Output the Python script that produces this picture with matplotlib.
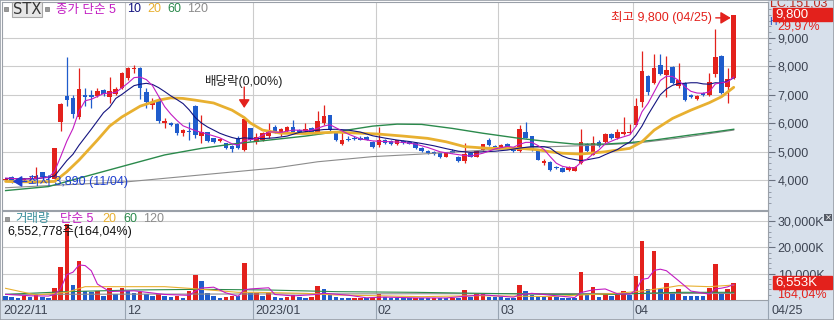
import matplotlib
matplotlib.use("Agg")
import matplotlib.pyplot as plt
import matplotlib.transforms as mtransforms
from matplotlib import font_manager
from matplotlib.patches import Rectangle

# narrow digits like the original chart font, if available
avail = {f.name for f in font_manager.fontManager.ttflist}
if 'Liberation Sans Narrow' in avail:
    NUM_FONT, NUM_SIZE = 'Liberation Sans Narrow', 10
else:
    NUM_FONT, NUM_SIZE = 'Liberation Sans', 9
plt.rcParams['font.family'] = [NUM_FONT, 'Noto Sans CJK KR', 'DejaVu Sans']

# daily candles, index 0 = 2022/11/03 ... index 119 = 2023/04/25
opens = [4010, 4120, 3970, 4010, 4030, 4050, 4290, 4120, 4060, 6040,
         6960, 6900, 6210, 7000, 6990, 6960, 7150, 6930, 7030, 7230,
         7590, 7890, 7930, 7100, 6640, 6810, 6020, 6010, 5990, 5660,
         5730, 6610, 5550, 5690, 5480, 5370, 5300, 5200, 5480, 5060,
         5830, 5340, 5410, 5550, 5870, 5650, 5730, 5870, 5760, 5730,
         5830, 5700, 6000, 6290, 5660, 5270, 5460, 5500, 5500, 5510,
         5340, 5240, 5410, 5380, 5270, 5370, 5360, 5310, 5150, 5010,
         5000, 4950, 4830, 5030, 4830, 4660, 4950, 4830, 5060, 5400,
         5200, 5170, 5270, 5100, 5010, 5680, 5540, 5060, 4590, 4640,
         4470, 4430, 4360, 4330, 4600, 5270, 4890, 5340, 5340, 5620,
         5480, 5620, 5650, 5940, 6740, 7660, 7410, 8040, 7700, 7970,
         7300, 7410, 6990, 6850, 7060, 6990, 7730, 8360, 7270, 7590]
highs = [4090, 4150, 4060, 4090, 4150, 4460, 4300, 4140, 5140, 6700,
         8320, 7000, 7930, 7220, 7160, 7240, 7200, 7630, 7260, 7800,
         7980, 8050, 7960, 7240, 6900, 6920, 6200, 6050, 6000, 5800,
         6040, 6650, 6290, 5700, 5490, 5490, 5310, 5240, 5560, 6150,
         5850, 5660, 5680, 6000, 5950, 5850, 5900, 6110, 5800, 6000,
         5860, 6430, 6640, 6300, 5700, 5690, 5550, 5560, 5540, 5560,
         5380, 5870, 5450, 5400, 5430, 5400, 5380, 5330, 5170, 5060,
         5040, 4970, 4980, 5100, 4850, 5300, 4970, 5030, 5290, 5480,
         5230, 5260, 5300, 5120, 5940, 6060, 5560, 5080, 4730, 4660,
         4500, 4460, 4500, 4490, 5800, 5310, 5550, 5420, 5650, 5660,
         5800, 6220, 5990, 6900, 8530, 7700, 8430, 8430, 8350, 8000,
         8100, 7440, 7020, 7000, 7100, 7760, 9290, 8380, 7950, 9800]
lows = [3980, 3890, 3950, 3990, 4010, 4030, 4100, 4050, 4010, 5730,
        6620, 6180, 6150, 6600, 6530, 6920, 6960, 6710, 6990, 7200,
        7500, 7750, 6850, 6550, 6500, 6000, 5840, 5900, 5600, 5560,
        5420, 5500, 5300, 5340, 5320, 5330, 5100, 5000, 5100, 5020,
        5380, 5270, 5380, 5500, 5650, 5550, 5700, 5650, 5650, 5700,
        5620, 5660, 5950, 5740, 5380, 5240, 5380, 5420, 5400, 5410,
        5130, 5170, 5280, 5240, 5250, 5280, 5260, 5100, 4980, 4930,
        4890, 4780, 4810, 4940, 4640, 4620, 4800, 4810, 5040, 5220,
        5130, 5150, 5080, 4990, 4990, 5480, 5040, 4700, 4520, 4340,
        4400, 4280, 4330, 4310, 4570, 5000, 4870, 5180, 5320, 5460,
        5460, 5600, 5630, 5900, 6570, 7000, 7380, 7700, 6920, 7380,
        7250, 6780, 6880, 6820, 6950, 6970, 7630, 7030, 6700, 7560]
closes = [4050, 3960, 4030, 4060, 4090, 4150, 4120, 4080, 5130, 6680,
          6820, 6340, 7200, 6930, 6920, 7130, 7010, 7130, 7200, 7750,
          7940, 7950, 7250, 6740, 6740, 6080, 6090, 5950, 5660, 5760,
          5680, 5590, 5690, 5380, 5340, 5450, 5140, 5100, 5140, 6150,
          5410, 5510, 5650, 5760, 5690, 5800, 5870, 5690, 5690, 5800,
          5660, 6080, 6270, 5760, 5410, 5410, 5410, 5450, 5420, 5430,
          5170, 5410, 5310, 5270, 5400, 5300, 5280, 5130, 5010, 4960,
          4920, 4800, 4950, 4960, 4660, 4920, 4830, 5010, 5270, 5240,
          5150, 5240, 5100, 5010, 5800, 5500, 5060, 4710, 4660, 4360,
          4430, 4300, 4470, 4470, 5340, 5030, 5310, 5200, 5620, 5480,
          5690, 5690, 5690, 6610, 7830, 7100, 7930, 7730, 7870, 7410,
          7510, 6810, 6920, 6950, 6990, 7440, 8320, 7060, 7540, 9800]
# volume in thousand shares
volumes = [1650, 1270, 900, 1650, 1300, 2150, 1270, 900, 4690, 12670,
           28770, 5700, 14830, 3420, 2920, 3420, 1650, 4690, 2150, 4690,
           3420, 2530, 2920, 2150, 1650, 2150, 1650, 1270, 1650, 890,
           3420, 9510, 7220, 2530, 1650, 890, 1270, 1650, 1600, 13940,
           2530, 2600, 1650, 2530, 1270, 890, 1270, 1900, 1270, 890,
           1270, 5320, 4180, 1900, 1270, 890, 850, 890, 900, 630,
           650, 2150, 1270, 890, 850, 630, 600, 890, 800, 700,
           900, 800, 700, 900, 800, 3800, 1000, 2100, 2150, 1300,
           1250, 1000, 950, 800, 5700, 3300, 1900, 1500, 1200, 1300,
           1000, 900, 800, 700, 10700, 2100, 5000, 1000, 2200, 1500,
           2000, 3500, 2000, 9250, 22430, 4060, 18630, 4200, 6340, 3200,
           4180, 1700, 1650, 1600, 1500, 4690, 13560, 2500, 4180, 6553]

# moving averages at sample days
ma5_x = [0, 3, 7, 8, 9, 10, 11, 12, 13, 14, 16, 18, 19, 20, 21, 22, 23, 24, 25, 26,
         27, 28, 29, 31, 33, 35, 37, 38, 39, 41, 43, 45, 47, 50, 52, 53, 54, 56, 58, 60,
         62, 65, 67, 69, 71, 73, 75, 76, 78, 80, 82, 83, 84, 85, 86, 87, 88, 89, 90, 91,
         92, 93, 94, 95, 96, 97, 98, 100, 102, 103, 104, 105, 106, 107, 108, 109, 110, 111,
         112, 113, 114, 115, 116, 117, 118, 119]
ma5_y = [4080, 4040, 4100, 4310, 4830, 5370, 5810, 6430, 6790, 6840, 7040, 7080, 7240, 7410,
         7600, 7620, 7530, 7320, 6950, 6580, 6320, 6100, 5910, 5740, 5620, 5490, 5280, 5230,
         5400, 5460, 5700, 5680, 5760, 5750, 5900, 5950, 5840, 5620, 5450, 5380, 5360, 5330,
         5270, 5150, 5000, 4930, 4870, 4850, 4950, 5100, 5190, 5160, 5260, 5330, 5330, 5220,
         5080, 4830, 4600, 4490, 4450, 4430, 4620, 4740, 4920, 5070, 5280, 5460, 5590, 5880,
         6400, 6700, 7100, 7500, 7650, 7640, 7500, 7280, 7120, 7060, 7050, 7100, 7380, 7420,
         7450, 7620]
ma10_x = [0, 5, 8, 9, 10] + list(range(11, 41)) + list(range(42, 89, 2)) + \
         list(range(89, 99)) + list(range(100, 120))
ma10_y = [4060, 4050, 4150, 4420, 4690,
          4910, 5230, 5510, 5790, 6080, 6370, 6560, 6870, 7010, 7170,
          7320, 7370, 7400, 7360, 7250, 7110, 6960, 6830, 6690, 6470,
          6200, 6010, 5870, 5760, 5650, 5570, 5500, 5450, 5490, 5470,
          5460, 5490, 5550, 5680, 5730, 5780, 5790, 5760, 5690, 5560,
          5480, 5410, 5360, 5290, 5210, 5110, 5020, 4980, 5000, 5020,
          5060, 5130, 5180, 5180,
          5130, 4970, 4850, 4770, 4730, 4690, 4720, 4760, 4800, 4900,
          5080, 5220, 5340, 5580, 5900, 6300, 6650, 7000, 7200, 7330,
          7390, 7400, 7420, 7420, 7380, 7370, 7420, 7410, 7480, 7590]
ma20_x = [0, 5, 8, 10, 12, 15, 17, 19, 22, 25, 27, 29, 31, 34, 37, 39, 40, 42, 45, 49,
          54, 57, 61, 65, 69, 72, 75, 79, 84, 87, 89, 91, 94, 98, 102, 104, 106, 109, 112,
          115, 117, 119]
ma20_y = [3960, 3940, 3960, 4300, 4710, 5410, 5900, 6220, 6600, 6810, 6890, 6870, 6810,
          6710, 6460, 6200, 6010, 5760, 5650, 5640, 5690, 5660, 5620, 5550, 5470, 5350,
          5180, 5120, 5120, 5070, 5000, 4950, 4920, 5000, 5120, 5350, 5760, 6170, 6460,
          6720, 6930, 7260]
ma60_x = [0, 7, 15, 21, 26, 32, 37, 43, 49, 54, 60, 64, 68, 73, 78, 84, 89, 93, 98, 102,
          106, 112, 116, 119]
ma60_y = [3640, 3780, 4250, 4600, 4890, 5120, 5270, 5410, 5550, 5700, 5900, 5970, 5960,
          5820, 5650, 5470, 5350, 5270, 5270, 5320, 5410, 5590, 5700, 5790]
ma120_x = [0, 20, 44, 51, 60, 68, 74, 85, 95, 103, 110, 119]
ma120_y = [3740, 3950, 4430, 4650, 4830, 4920, 5000, 5150, 5220, 5300, 5480, 5760]

vma5_x = [0, 4, 7, 8, 9, 10, 11, 12, 13, 14, 15, 17, 21, 26, 30, 31, 32, 34, 36, 38, 39,
          40, 43, 44, 47, 51, 52, 56, 59, 62, 67, 72, 75, 78, 83, 84, 86, 89, 93, 94, 96,
          98, 100, 102, 103, 104, 105, 106, 107, 108, 110, 112, 115, 116, 117, 118, 119]
vma5_y = [2150, 1600, 1500, 2060, 4340, 9660, 10550, 13330, 13080, 11130, 6060, 3220,
          3500, 2100, 1780, 3350, 4540, 4870, 2710, 1420, 3880, 4210, 4640, 2100, 1570,
          2130, 2590, 1830, 840, 1110, 800, 780, 1400, 1960, 1080, 1960, 2540, 1840, 940,
          2820, 3860, 4200, 2340, 2240, 3650, 7840, 8250, 11270, 11710, 11130, 7310, 3410,
          2230, 4200, 4500, 5000, 5900]
vma20_x = [0, 5, 10, 13, 20, 26, 30, 38, 41, 49, 54, 60, 68, 77, 89, 94, 100, 104, 108,
           110, 115, 119]
vma20_y = [4440, 1900, 2920, 5070, 5070, 5070, 4440, 2920, 2920, 2530, 1900, 1650, 1270,
           1650, 1300, 1900, 2530, 3420, 4690, 5450, 5070, 5700]
vma60_x = [0, 10, 21, 32, 43, 54, 67, 78, 89, 100, 104, 110, 119]
vma60_y = [2150, 3170, 3800, 4060, 3800, 3170, 2920, 2530, 2150, 2150, 2530, 2920, 2920]
vma120_x = [0, 30, 60, 90, 119]
vma120_y = [2150, 2250, 2350, 2450, 2500]

month_starts = [20, 41, 61, 81, 103]
month_labels = ['12', '2023/01', '02', '03', '04']
first_label = '2022/11'
last_label = '04/25'
price_ticks = [4000, 5000, 6000, 7000, 8000, 9000]
vol_ticks = [10000, 20000, 30000]

UP = '#e3211c'
DOWN = '#1f5ccc'
GRID = '#cccccc'
STRIP = '#d7e0eb'
AXTXT = '#3d4452'
C5, C10, C20, C60, C120 = '#c21cc2', '#141480', '#e8b030', '#2b8a4c', '#8c8c8c'

W, H = 834, 320
fig = plt.figure(figsize=(W / 100, H / 100), dpi=100)


def fx(px):
    return px / W


def fy(py):
    return 1 - py / H


fig.add_artist(Rectangle((fx(768), 0), fx(66), 1, transform=fig.transFigure,
                         color=STRIP, zorder=-5))
fig.add_artist(Rectangle((0, 0), 1, 20 / H, transform=fig.transFigure,
                         color=STRIP, zorder=-5))

ax = fig.add_axes([fx(2), fy(210), fx(766), 208 / H])
axv = fig.add_axes([fx(2), fy(300), fx(766), 89 / H])

n = len(closes)
xs = list(range(n))
for a in (ax, axv):
    a.set_xlim(-0.59, 124.6)
    a.set_xticks([])
    a.set_axisbelow(True)
    for s in a.spines.values():
        s.set_color('#9aa0a8')
        s.set_linewidth(0.8)
    for b in month_starts:
        a.axvline(b - 0.5, color=GRID, lw=0.8, zorder=0)

# ---- price panel ----
ax.set_ylim(2959, 10251)
ax.yaxis.tick_right()
ax.set_yticks(price_ticks)
ax.set_yticklabels([f'{v:,}' for v in price_ticks])
ax.set_yticks(list(range(3200, 10200, 200)), minor=True)
ax.tick_params(axis='y', which='major', direction='out', length=5, width=0.8,
               color='#6a7280', labelsize=NUM_SIZE, labelcolor=AXTXT, pad=2)
ax.tick_params(axis='y', which='minor', direction='out', length=2.5, width=0.6,
               color='#8a92a0')
ax.grid(axis='y', which='major', color=GRID, lw=0.8)

cols = [UP if c >= o else DOWN for o, c in zip(opens, closes)]
ax.vlines(xs, lows, highs, colors=cols, lw=0.9, zorder=3)
bottoms = [min(o, c) for o, c in zip(opens, closes)]
heights = [max(abs(c - o), 30) for o, c in zip(opens, closes)]
ax.bar(xs, heights, 0.74, bottom=bottoms, color=cols, lw=0, zorder=4)

ax.plot(ma120_x, ma120_y, color=C120, lw=0.8, zorder=5)
ax.plot(ma60_x, ma60_y, color=C60, lw=1.0, zorder=5)
ax.plot(ma20_x, ma20_y, color=C20, lw=2.0, zorder=6, solid_capstyle='round')
ax.plot(ma10_x, ma10_y, color=C10, lw=0.8, zorder=7)
ax.plot(ma5_x, ma5_y, color=C5, lw=0.8, zorder=8)


def offs(axis, dx, dy):
    return mtransforms.offset_copy(axis.transData, fig=fig, x=dx, y=dy, units='dots')


# ex-dividend marker
exd = 39
ax.annotate('', xy=(exd, highs[exd]), xycoords=offs(ax, 0, 11),
            xytext=(0, 21), textcoords='offset pixels',
            arrowprops=dict(arrowstyle='-|>,head_length=0.45,head_width=0.3',
                            color=UP, lw=1.0, shrinkA=0, shrinkB=0,
                            mutation_scale=11), zorder=9)
ax.text(exd, highs[exd], '배당락(0,00%)', transform=offs(ax, 0, 37), ha='center',
        va='center', fontsize=9, color='#222222', zorder=9)

# highest marker
top = n - 1
ax.annotate('', xy=(top, highs[top]), xycoords=offs(ax, -3, -3),
            xytext=(-15, 0), textcoords='offset pixels',
            arrowprops=dict(arrowstyle='-|>,head_length=0.55,head_width=0.33',
                            color=UP, lw=1.0, shrinkA=0, shrinkB=0,
                            mutation_scale=11), zorder=9)
ax.text(top, highs[top], '최고 9,800 (04/25)', transform=offs(ax, -22, -3),
        ha='right', va='center', fontsize=9, color=UP, zorder=9)

# lowest marker
low_i = 1
ax.annotate('', xy=(low_i, lows[low_i]), xycoords=offs(ax, 1, 2),
            xytext=(14, 0), textcoords='offset pixels',
            arrowprops=dict(arrowstyle='-|>,head_length=0.5,head_width=0.3',
                            color='#1d3fd0', lw=1.0, shrinkA=0, shrinkB=0,
                            mutation_scale=11), zorder=9)
ax.text(low_i, lows[low_i], '최저 3,890 (11/04)', transform=offs(ax, 16, 2),
        ha='left', va='center', fontsize=9, color='#1d3fd0', zorder=9)

# ---- volume panel ----
axv.set_ylim(0, 33840)
axv.yaxis.tick_right()
axv.set_yticks(vol_ticks)
axv.set_yticklabels([f'{v:,}K' for v in vol_ticks])
axv.set_yticks(list(range(2000, 34000, 2000)), minor=True)
axv.tick_params(axis='y', which='major', direction='out', length=5, width=0.8,
                color='#6a7280', labelsize=NUM_SIZE, labelcolor=AXTXT, pad=2)
axv.tick_params(axis='y', which='minor', direction='out', length=2.5, width=0.6,
                color='#8a92a0')
axv.grid(axis='y', which='major', color=GRID, lw=0.8)

vcols = [DOWN] + [UP if volumes[i] > volumes[i - 1] else DOWN for i in range(1, n)]
axv.bar(xs, volumes, 0.74, color=vcols, lw=0, zorder=3)
axv.plot(vma120_x, vma120_y, color=C120, lw=0.8, zorder=4)
axv.plot(vma60_x, vma60_y, color=C60, lw=0.8, zorder=4)
axv.plot(vma20_x, vma20_y, color=C20, lw=0.8, zorder=5)
axv.plot(vma5_x, vma5_y, color=C5, lw=0.8, zorder=6)

# date strip
bt = mtransforms.blended_transform_factory(axv.transData, axv.transAxes)
for b, lab in zip(month_starts, month_labels):
    axv.plot([b - 0.5, b - 0.5], [0, -20 / 89], transform=bt, color='#98a4b2',
             lw=0.8, clip_on=False)
    axv.text(b - 0.5, -11 / 89, lab,
             transform=mtransforms.offset_copy(bt, fig=fig, x=2, y=0, units='dots'),
             ha='left', va='center', fontsize=NUM_SIZE, color=AXTXT)
fig.text(fx(3), fy(311), first_label, ha='left', va='center', fontsize=NUM_SIZE,
         color=AXTXT)
fig.text(fx(772), fy(311), last_label, ha='left', va='center', fontsize=NUM_SIZE,
         color=AXTXT)
fig.add_artist(plt.Line2D([fx(768), fx(768)], [0, fy(300)], transform=fig.transFigure,
                          color='#98a4b2', lw=0.8))


# ---- legends ----
def square(x, y, s=4, fc='#9a9a9a'):
    fig.add_artist(Rectangle((fx(x), fy(y + s)), fx(s), s / H, transform=fig.transFigure,
                             fc=fc, ec='#7a7a7a', lw=0.5, zorder=10))


square(4, 7)
fig.add_artist(Rectangle((fx(12), fy(17)), fx(30), 15 / H, transform=fig.transFigure,
                         fc='#e6e6e6', ec='#a8a8a8', lw=0.8, zorder=10))
fig.text(fx(27), fy(9.5), 'STX', ha='center', va='center', fontsize=10.5,
         color='#333333', family=['DejaVu Sans'], zorder=11)
square(45, 7)
for x, s, c in [(56, '종가 단순 5', C5), (127, '10', C10), (147, '20', C20),
                (167, '60', C60), (187, '120', C120)]:
    fig.text(fx(x), fy(9.5), s, ha='left', va='center', fontsize=9, color=c, zorder=11)

square(5, 217)
for x, s, c in [(15, '거래량', '#3a8f9c'), (60, '단순 5', C5), (102, '20', C20),
                (123, '60', C60), (143, '120', C120)]:
    fig.text(fx(x), fy(219), s, ha='left', va='center', fontsize=9, color=c, zorder=11)
fig.text(fx(7), fy(232), '6,552,778주(164,04%)', ha='left', va='center', fontsize=9,
         color='#111111', zorder=11)


# ---- current value boxes on the right axes ----
def value_box(axis, value, label, sub, sub_color):
    y_disp = axis.transData.transform((0, value))[1]
    yc = y_disp / fig.bbox.height
    fig.add_artist(Rectangle((fx(773), yc - 6.5 / H), fx(59), 13 / H,
                             transform=fig.transFigure, color=UP, zorder=12))
    fig.text(fx(775), yc, label, ha='left', va='center', fontsize=NUM_SIZE + 0.5,
             color='white', zorder=13)
    fig.text(fx(777), yc - 11.5 / H, sub, ha='left', va='center', fontsize=NUM_SIZE,
             color=sub_color, zorder=13)


fig.text(fx(770), fy(4), 'LC:151,03', ha='left', va='center', fontsize=NUM_SIZE,
         color='#c0281c', zorder=11)
fig.text(fx(769), fy(22), 'H', ha='left', va='center', fontsize=7.5,
         color='#2050c8', zorder=11)
value_box(ax, closes[-1], f'{closes[-1]:,}', '29,97%', UP)
value_box(axv, volumes[-1], f'{volumes[-1]:,}K', '164,04%', UP)

# close icon on the volume panel
fig.add_artist(Rectangle((fx(824), fy(221)), fx(8), 7 / H, transform=fig.transFigure,
                         fc='#555b66', ec='none', zorder=12))
fig.text(fx(828), fy(217.5), '×', ha='center', va='center', fontsize=6,
         color='white', family=['DejaVu Sans'], zorder=13)

# outer frame
fig.add_artist(Rectangle((0, 0), 1, 1, transform=fig.transFigure, fill=False,
                         ec='#9aa0a8', lw=1.2, zorder=20))

fig.savefig('out.png', dpi=100)
